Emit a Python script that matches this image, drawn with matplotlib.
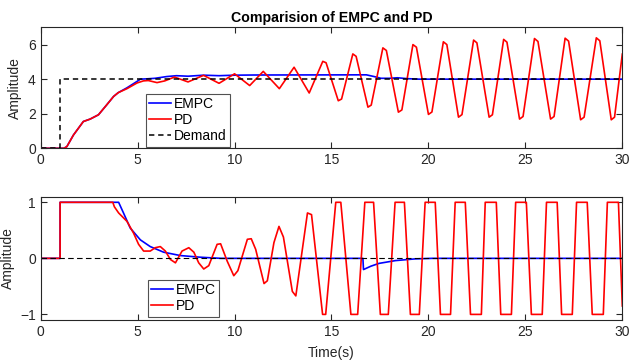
import matplotlib
matplotlib.use("Agg")
import matplotlib.pyplot as plt

plt.rcParams['font.family'] = ['Liberation Sans', 'DejaVu Sans']

# ---------------- data ----------------
# Top panel: output
top_t_demand = [0, 1.0, 1.0, 30]
top_y_demand = [0, 0, 4, 4]

top_t_empc = [0, 1.2, 1.35, 1.69, 2.2, 2.55, 2.98, 3.41, 3.76, 4.0, 4.45, 4.97, 5.14,
              5.5, 5.9, 6.5, 7.0, 7.6, 8.4, 9.2, 10.0, 11.0, 16.8, 17.2, 17.55, 18.0,
              18.4, 18.9, 19.5, 30.0]
top_y_empc = [0, 0, 0.1, 0.77, 1.55, 1.69, 1.94, 2.52, 3.0, 3.22, 3.5, 3.87, 4.0,
              4.02, 4.05, 4.15, 4.2, 4.17, 4.23, 4.2, 4.23, 4.24, 4.25, 4.15, 4.05, 4.05,
              4.08, 4.03, 4.0, 4.0]

top_t_pd = [0, 1.2, 1.35, 1.69, 2.2, 2.55, 2.98, 3.41, 3.76, 4.0, 4.45, 4.97, 5.3, 5.55,
            6.0, 6.4, 6.9, 7.6, 8.4, 9.2, 10.0, 10.78, 11.48, 12.31, 13.07, 13.85,
            14.55, 14.72, 15.35, 15.52, 16.1, 16.27, 16.88, 17.05, 17.65, 17.83,
            18.45, 18.63, 19.2, 19.38, 20.0, 20.18, 20.77, 20.95, 21.55, 21.73,
            22.33, 22.5, 23.13, 23.3, 23.88, 24.05, 24.7, 24.88, 25.47, 25.65,
            26.3, 26.48, 27.05, 27.23, 27.85, 28.03, 28.66, 28.84, 29.43, 29.6, 30.0]
top_y_pd = [0, 0, 0.1, 0.77, 1.55, 1.69, 1.94, 2.52, 3.0, 3.22, 3.45, 3.78, 3.9, 3.92,
            3.8, 3.9, 4.12, 3.84, 4.22, 3.76, 4.31, 3.63, 4.45, 3.45, 4.69, 3.2,
            5.03, 4.95, 2.75, 2.85, 5.46, 5.32, 2.38, 2.5, 5.81, 5.66, 2.09, 2.22,
            6.0, 5.85, 1.96, 2.1, 6.16, 6.0, 1.8, 1.95, 6.26, 6.1, 1.8, 1.94,
            6.3, 6.14, 1.69, 1.84, 6.35, 6.18, 1.69, 1.84, 6.37, 6.2, 1.65, 1.8,
            6.39, 6.22, 1.65, 1.8, 5.45]

# Bottom panel: control signal
bot_t_demand = [0, 30]
bot_y_demand = [0, 0]

bot_t_empc = [0, 1.0, 1.0, 4.02, 4.27, 4.62, 5.14, 5.65, 6.34, 7.2, 8.24, 9.3, 16.62,
              16.65, 17.03, 17.45, 18.3, 19.3, 20.2, 30.0]
bot_y_empc = [0, 0, 1, 1, 0.81, 0.54, 0.33, 0.21, 0.11, 0.05, 0.02, 0.0, 0.0,
              -0.2, -0.14, -0.09, -0.04, -0.01, 0.0, 0.0]

bot_t_pd = [0, 1.0, 1.0, 3.72, 3.8, 4.02, 4.45, 4.79, 5.05, 5.31, 5.65, 5.91, 6.17, 6.43,
            6.69, 6.95, 7.29, 7.64, 7.9, 8.15, 8.41, 8.67, 9.1, 9.28, 9.62, 9.96,
            10.17, 10.66, 10.86, 11.09, 11.52, 11.69, 12.03, 12.29, 12.52, 12.98,
            13.16, 13.76, 13.97, 14.54, 14.7, 15.22, 15.48, 16.0, 16.35, 16.72, 17.17,
            17.52, 17.93, 18.28, 18.76, 19.07, 19.53, 19.83, 20.35, 20.62, 21.14,
            21.38, 21.9, 22.17, 22.73, 22.93, 23.5, 23.73, 24.28, 24.5, 25.05, 25.31,
            25.87, 26.09, 26.64, 26.87, 27.42, 27.64, 28.19, 28.45, 29.02, 29.23,
            29.8, 30.0]
bot_y_pd = [0, 0, 1, 1, 0.92, 0.81, 0.66, 0.45, 0.25, 0.13, 0.13, 0.19, 0.21, 0.13,
            -0.02, -0.08, 0.13, 0.19, 0.11, -0.08, -0.19, -0.13, 0.25, 0.26, -0.05, -0.31,
            -0.22, 0.34, 0.35, 0.16, -0.45, -0.4, 0.28, 0.57, 0.38, -0.59,
            -0.67, 0.81, 0.78, -1, -1, 1, 1, -1, -1, 1, 1,
            -1, -1, 1, 1, -1, -1, 1, 1, -1, -1,
            1, 1, -1, -1, 1, 1, -1, -1, 1, 1, -1,
            -1, 1, 1, -1, -1, 1, 1, -1, -1, 1,
            1, -0.85]

x_ticks = [0, 5, 10, 15, 20, 25, 30]
top_yticks = [0, 2, 4, 6]
bot_yticks = [-1, 0, 1]

# ---------------- figure ----------------
W, H = 629, 362
fig = plt.figure(figsize=(W / 100, H / 100), dpi=100)

ax_col = '#262626'
lw = 1.2


def style(ax):
    for s in ax.spines.values():
        s.set_color(ax_col)
        s.set_linewidth(0.8)
    ax.tick_params(direction='in', top=True, right=True, length=4, width=0.8,
                   colors=ax_col, labelsize=10, labelcolor=ax_col)
    ax.set_xlim(0, 30)
    ax.set_xticks(x_ticks)


def legend(ax, anchor):
    leg = ax.legend(loc='lower left', bbox_to_anchor=anchor, borderaxespad=0,
                    fontsize=10, frameon=True, fancybox=False, edgecolor=ax_col,
                    handlelength=1.6, handletextpad=0.15, labelspacing=0.15,
                    borderpad=0.25)
    leg.get_frame().set_linewidth(0.8)
    return leg


ax1 = fig.add_axes([40.7 / W, 1 - 148.3 / H, 581.6 / W, 121 / H])
ax1.plot(top_t_empc, top_y_empc, color='#0000ff', lw=lw, label='EMPC')
ax1.plot(top_t_pd, top_y_pd, color='#ff0000', lw=lw, label='PD')
ax1.plot(top_t_demand, top_y_demand, color='black', lw=1.1, ls=(0, (3.5, 2.5)), label='Demand')
style(ax1)
ax1.set_ylim(0, 7)
ax1.set_yticks(top_yticks)
ax1.set_ylabel('Amplitude', fontsize=10, color=ax_col, labelpad=4)
ax1.set_title('Comparision of EMPC and PD', fontsize=10.2, fontweight='bold', pad=4)
legend(ax1, (0.1805, 0.013))

ax2 = fig.add_axes([40.7 / W, 1 - 320 / H, 581.6 / W, 123.3 / H])
ax2.plot(bot_t_empc, bot_y_empc, color='#0000ff', lw=lw, label='EMPC')
ax2.plot(bot_t_pd, bot_y_pd, color='#ff0000', lw=lw, label='PD')
ax2.plot(bot_t_demand, bot_y_demand, color='black', lw=0.8, ls=(0, (5, 3)))
style(ax2)
ax2.set_ylim(-1.1, 1.1)
ax2.set_yticks(bot_yticks)
ax2.set_ylabel('Amplitude', fontsize=10, color=ax_col, labelpad=4)
ax2.set_xlabel('Time(s)', fontsize=10, color=ax_col, labelpad=5)
legend(ax2, (0.184, 0.027))

fig.savefig('out.png', dpi=100)
